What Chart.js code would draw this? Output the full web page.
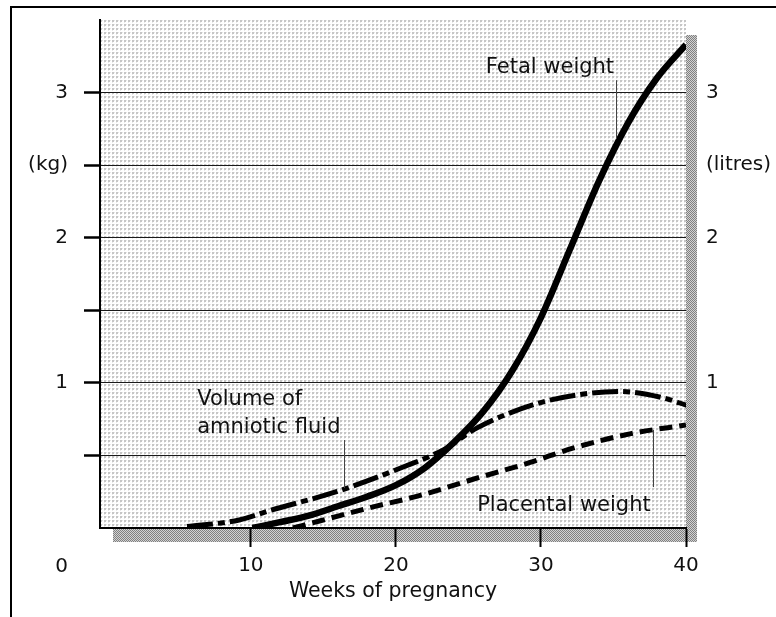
<!DOCTYPE html>
<html>
<head>
<meta charset="utf-8">
<script src="https://cdn.jsdelivr.net/npm/chart.js@4.4.1/dist/chart.umd.min.js"></script>
<style>
  html, body { margin: 0; padding: 0; background: #fff; }
</style>
</head>
<body>
<canvas id="pregnancyChart" width="776" height="617"></canvas>
<script>
const weekTicks = [10, 20, 30, 40];
const weightTicks = [0.5, 1, 1.5, 2, 2.5, 3];
const kgLabels = ["", "1", "", "2", "(kg)", "3"];
const litreLabels = ["", "1", "", "2", "(litres)", "3"];

const fetalWeeks = [10.1, 12, 14, 16, 18, 20, 22, 24, 26, 28, 30, 32, 34, 36, 38, 40];
const fetalKg = [0, 0.04, 0.085, 0.15, 0.215, 0.295, 0.415, 0.59, 0.8, 1.08, 1.45, 1.92, 2.39, 2.79, 3.1, 3.33];

const fluidWeeks = [5.6, 9.2, 11.3, 15.9, 20.5, 23.3, 25.6, 29.5, 32.7, 35.5, 38.3, 40.2];
const fluidLitres = [0.01, 0.055, 0.12, 0.25, 0.42, 0.54, 0.69, 0.85, 0.92, 0.94, 0.9, 0.84];

const placentaWeeks = [12.9, 14.8, 18.2, 21.5, 25.8, 29.2, 32.2, 36.2, 40];
const placentaKg = [0, 0.05, 0.14, 0.22, 0.35, 0.45, 0.55, 0.65, 0.71];

// callouts: text anchored at (week, value), leader from (week, top) to (week, bottom)
const callouts = [
  { text: ["Fetal weight"], week: 26.2, value: 3.134, lead: [35.2, 3.085, 2.68] },
  { text: ["Volume of", "amniotic fluid"], week: 6.3, value: 0.847, lead: [16.4, 0.606, 0.275] },
  { text: ["Placental weight"], week: 25.6, value: 0.117, lead: [37.7, 0.675, 0.282] },
];

const FONT = "'DejaVu Sans', 'Liberation Sans', sans-serif";
Chart.defaults.font.family = FONT;
Chart.defaults.font.size = 20;
Chart.defaults.color = "#111";

function pattern(ctx, size, draw) {
  const c = document.createElement("canvas");
  c.width = c.height = size;
  draw(c.getContext("2d"));
  return ctx.createPattern(c, "repeat");
}

const backdrop = {
  id: "backdrop",
  beforeDraw(chart) {
    const { ctx, chartArea: a } = chart;
    ctx.save();
    ctx.fillStyle = "#fff";
    ctx.fillRect(0, 0, chart.width, chart.height);

    // frame round the figure
    ctx.fillStyle = "#000";
    ctx.fillRect(10, 6, chart.width - 10, 2);
    ctx.fillRect(10, 6, 2, chart.height - 6);

    // halftone screen of the plot
    ctx.fillStyle = pattern(ctx, 4, (p) => {
      p.fillStyle = "#fff";
      p.fillRect(0, 0, 4, 4);
      p.fillStyle = "#c6c6c6";
      p.fillRect(0, 0, 2, 2);
      p.fillStyle = "#e8e8e8";
      p.fillRect(2, 0, 1, 1);
      p.fillRect(0, 2, 1, 1);
    });
    ctx.fillRect(a.left, a.top, a.right - a.left, a.bottom - a.top);

    // darker shadow on the right and below
    ctx.fillStyle = pattern(ctx, 2, (p) => {
      p.fillStyle = "#d2d2d2";
      p.fillRect(0, 0, 2, 2);
      p.fillStyle = "#808080";
      p.fillRect(0, 0, 1, 1);
      p.fillRect(1, 1, 1, 1);
    });
    ctx.fillRect(a.right, a.top + 15, 11, a.bottom - a.top - 1);
    ctx.fillRect(a.left + 13, a.bottom, a.right - a.left - 2, 14);
    ctx.restore();
  },
  afterDraw(chart) {
    const { ctx, scales } = chart;
    ctx.save();
    ctx.font = "20px " + FONT;
    ctx.fillStyle = "#111";
    ctx.textAlign = "right";
    ctx.textBaseline = "middle";
    ctx.fillText("0", scales.y.right - 32, scales.x.top + 39);
    ctx.restore();
  },
};

const notes = {
  id: "notes",
  afterDatasetsDraw(chart) {
    const { ctx, scales } = chart;
    const x = scales.x, y = scales.y;
    ctx.save();
    callouts.forEach((c) => {
      const lx = Math.round(x.getPixelForValue(c.lead[0])) + 0.5;
      ctx.strokeStyle = "#444";
      ctx.lineWidth = 1;
      ctx.beginPath();
      ctx.moveTo(lx, y.getPixelForValue(c.lead[1]));
      ctx.lineTo(lx, y.getPixelForValue(c.lead[2]));
      ctx.stroke();

      ctx.font = "21px " + FONT;
      ctx.fillStyle = "#111";
      ctx.textAlign = "left";
      ctx.textBaseline = "alphabetic";
      const tx = x.getPixelForValue(c.week);
      const ty = y.getPixelForValue(c.value);
      c.text.forEach((line, i) => ctx.fillText(line, tx, ty + i * 28));
    });
    ctx.restore();
  },
};

const points = (xs, ys) => xs.map((w, i) => ({ x: w, y: ys[i] }));

const weightAxis = (position, labels, width, pad, extra) => ({
  position: position,
  min: 0,
  max: 3.5,
  afterBuildTicks: (s) => { s.ticks = weightTicks.map((v) => ({ value: v })); },
  afterFit: (s) => {
    s.width = width;
    // keep the label overhang from pushing the plot down
    s.paddingTop = 0;
    s.paddingBottom = 0;
  },
  ticks: {
    autoSkip: false,
    padding: pad,
    font: { size: 20 },
    color: "#111",
    callback: (v, i) => labels[i],
  },
  ...extra,
});

const lineStyle = {
  borderColor: "#000",
  borderCapStyle: "butt",
  pointRadius: 0,
  cubicInterpolationMode: "monotone",
};

new Chart(document.getElementById("pregnancyChart"), {
  type: "line",
  data: {
    datasets: [
      {
        ...lineStyle,
        label: "Fetal weight",
        data: points(fetalWeeks, fetalKg),
        borderWidth: 6.5,
      },
      {
        ...lineStyle,
        label: "Volume of amniotic fluid",
        data: points(fluidWeeks, fluidLitres),
        borderWidth: 5,
        borderDash: [26, 5, 7, 5],
      },
      {
        ...lineStyle,
        label: "Placental weight",
        data: points(placentaWeeks, placentaKg),
        borderWidth: 5,
        borderDash: [13, 7],
      },
    ],
  },
  options: {
    responsive: false,
    animation: false,
    layout: { padding: { top: 20, left: 0, right: 0, bottom: 0 } },
    plugins: {
      legend: { display: false },
      tooltip: { enabled: false },
    },
    scales: {
      x: {
        type: "linear",
        position: "bottom",
        min: -0.4,
        max: 40,
        afterBuildTicks: (s) => { s.ticks = weekTicks.map((v) => ({ value: v })); },
        afterFit: (s) => { s.height = 89; },
        grid: {
          drawOnChartArea: false,
          drawTicks: true,
          tickLength: 19,
          tickWidth: 2,
          tickColor: "#000",
        },
        border: { display: true, color: "#000", width: 2 },
        ticks: {
          autoSkip: false,
          maxRotation: 0,
          padding: 7,
          color: "#111",
          callback: (v) => String(v),
        },
        title: {
          display: true,
          text: "Weeks of pregnancy",
          color: "#111",
          font: { size: 20.5 },
          padding: { top: 0, bottom: 13 },
        },
      },
      y: weightAxis("left", kgLabels, 100, 16, {
        grid: {
          color: "#1a1a1a",
          lineWidth: 1,
          drawTicks: true,
          tickLength: 16,
          tickWidth: 2.5,
          tickColor: "#000",
        },
        border: { display: true, color: "#000", width: 2 },
      }),
      y2: weightAxis("right", litreLabels, 90, 20, {
        grid: { display: false, drawTicks: false },
        border: { display: false },
      }),
    },
  },
  plugins: [backdrop, notes],
});
</script>
</body>
</html>
